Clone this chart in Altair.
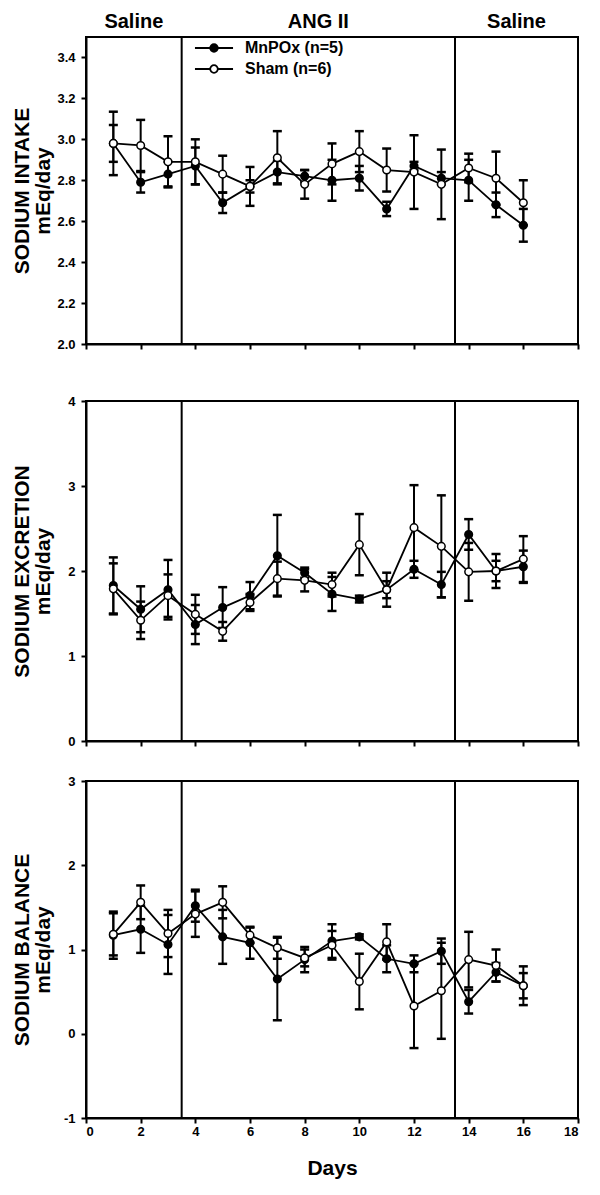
import altair as alt
import pandas as pd

days = list(range(1, 17))
series_names = ["MnPOx (n=5)", "Sham (n=6)"]

intake_mn = [2.98, 2.79, 2.83, 2.87, 2.69, 2.77, 2.84, 2.82, 2.80, 2.81, 2.66, 2.87, 2.81, 2.80, 2.68, 2.58]
intake_mn_err = [0.09, 0.05, 0.06, 0.09, 0.05, 0.03, 0.055, 0.03, 0.10, 0.06, 0.035, 0.02, 0.03, 0.10, 0.06, 0.08]
intake_sh = [2.98, 2.97, 2.89, 2.89, 2.83, 2.77, 2.91, 2.78, 2.88, 2.94, 2.85, 2.84, 2.78, 2.86, 2.81, 2.69]
intake_sh_err = [0.155, 0.125, 0.125, 0.11, 0.09, 0.095, 0.13, 0.07, 0.10, 0.10, 0.105, 0.18, 0.17, 0.07, 0.13, 0.11]

excretion_mn = [1.83, 1.55, 1.78, 1.37, 1.57, 1.71, 2.18, 1.98, 1.73, 1.67, 1.78, 2.02, 1.84, 2.43, 2.00, 2.05]
excretion_mn_err = [0.33, 0.27, 0.35, 0.23, 0.24, 0.16, 0.48, 0.06, 0.20, 0.04, 0.10, 0.10, 0.15, 0.18, 0.12, 0.19]
excretion_sh = [1.79, 1.42, 1.71, 1.49, 1.29, 1.63, 1.91, 1.89, 1.84, 2.31, 1.78, 2.51, 2.29, 1.99, 2.00, 2.14]
excretion_sh_err = [0.30, 0.22, 0.25, 0.23, 0.11, 0.10, 0.20, 0.13, 0.14, 0.36, 0.20, 0.50, 0.60, 0.34, 0.20, 0.27]

balance_mn = [1.17, 1.24, 1.06, 1.52, 1.15, 1.08, 0.65, 0.88, 1.10, 1.15, 0.89, 0.83, 0.98, 0.38, 0.73, 0.57]
balance_mn_err = [0.28, 0.28, 0.35, 0.19, 0.32, 0.19, 0.49, 0.15, 0.20, 0.03, 0.16, 0.10, 0.15, 0.14, 0.11, 0.15]
balance_sh = [1.18, 1.56, 1.19, 1.42, 1.56, 1.17, 1.02, 0.90, 1.05, 0.62, 1.09, 0.33, 0.51, 0.88, 0.81, 0.57]
balance_sh_err = [0.25, 0.20, 0.28, 0.27, 0.19, 0.09, 0.13, 0.10, 0.17, 0.33, 0.21, 0.50, 0.57, 0.33, 0.19, 0.23]

phase_labels = ["Saline", "ANG II", "Saline"]
phase_centers = [1.75, 8.5, 15.75]
phase_bounds = [3.5, 13.5]
x_ticks = list(range(0, 19, 2))

FONT = "Liberation Sans"
LEGEND_PATH = "M-5,0H-1 M1,0H5 M-1,0A1,1 0 1,0 1,0A1,1 0 1,0 -1,0"
HYPHEN_LABEL = "replace(datum.label, '\u2212', '-')"


def make_df(mn, mn_err, sh, sh_err):
    rows = []
    for name, vals, errs in [(series_names[0], mn, mn_err), (series_names[1], sh, sh_err)]:
        for d, v, e in zip(days, vals, errs):
            rows.append({"day": d, "value": v, "lo": v - e, "hi": v + e, "series": name})
    return pd.DataFrame(rows)


def panel(mn, mn_err, sh, sh_err, ydom, yvals, yfmt, title, height,
          bottom=False, legend=False, phases=False, x_min_extent=None):
    df = make_df(mn, mn_err, sh, sh_err)
    xaxis_kw = dict(values=x_ticks, grid=False, tickSize=5)
    if bottom:
        xaxis = alt.Axis(title="Days", titleFontSize=21, titlePadding=19, **xaxis_kw)
    else:
        kw = dict(labels=False, title=None, **xaxis_kw)
        if x_min_extent is not None:
            kw["minExtent"] = x_min_extent
        xaxis = alt.Axis(**kw)
    xs = alt.Scale(domain=[0, 18], nice=False)
    ys = alt.Scale(domain=ydom, nice=False, zero=False)
    x = alt.X("day:Q", scale=xs, axis=xaxis)
    y = alt.Y("value:Q", scale=ys,
              axis=alt.Axis(values=yvals, format=yfmt, labelExpr=HYPHEN_LABEL, title=title,
                            grid=False, tickSize=5, labelPadding=6, minExtent=30,
                            titleFontSize=21, titleLineHeight=21, titlePadding=3))

    base = alt.Chart(df)
    bounds = alt.Chart(pd.DataFrame({"b": phase_bounds})).mark_rule(
        color="black", strokeWidth=2).encode(x=alt.X("b:Q", scale=xs))
    err = base.mark_rule(color="black", strokeWidth=2).encode(
        x=x, y=alt.Y("lo:Q", scale=ys), y2="hi:Q")
    caps = base.transform_fold(["lo", "hi"], as_=["end", "ev"]).mark_tick(
        color="black", orient="horizontal", size=9, thickness=2.5, opacity=1).encode(
        x="day:Q", y=alt.Y("ev:Q", scale=ys))
    line = base.mark_line(color="black", strokeWidth=1.8).encode(x=x, y=y, detail="series:N")
    legend_obj = None
    if legend:
        legend_obj = alt.Legend(title=None, orient="none", legendX=120, legendY=3,
                                symbolType=LEGEND_PATH, symbolSize=58,
                                symbolStrokeColor="black", symbolStrokeWidth=1.8,
                                symbolOpacity=1, labelOffset=23, rowPadding=5,
                                labelFontSize=16, labelFontWeight="bold", labelFont=FONT,
                                labelColor="black")
    pts = base.mark_point(shape="circle", filled=True, stroke="black", strokeWidth=1.5,
                          size=58, opacity=1).encode(
        x=x, y=y,
        fill=alt.Fill("series:N", scale=alt.Scale(domain=series_names, range=["black", "white"]),
                      legend=legend_obj))
    layers = [bounds, err, caps, line, pts]
    if phases:
        ph = alt.Chart(pd.DataFrame({"label": phase_labels, "c": phase_centers})).mark_text(
            font=FONT, fontSize=20, fontWeight="bold", color="black", baseline="middle").encode(
            x=alt.X("c:Q", scale=xs), y=alt.value(-15), text="label:N")
        layers.append(ph)
    return alt.layer(*layers).properties(width=492, height=height)


top = panel(intake_mn, intake_mn_err, intake_sh, intake_sh_err, [2.0, 3.5],
            [2.0, 2.2, 2.4, 2.6, 2.8, 3.0, 3.2, 3.4], ".1f", ["SODIUM INTAKE", "mEq/day"], 307,
            legend=True, phases=True, x_min_extent=24)
mid = panel(excretion_mn, excretion_mn_err, excretion_sh, excretion_sh_err, [0, 4],
            [0, 1, 2, 3, 4], "d", ["SODIUM EXCRETION", "mEq/day"], 340)
bot = panel(balance_mn, balance_mn_err, balance_sh, balance_sh_err, [-1, 3],
            [-1, 0, 1, 2, 3], "d", ["SODIUM BALANCE", "mEq/day"], 337, bottom=True)

chart = alt.vconcat(top, mid, bot, spacing=25, background="white",
                    padding={"left": 2, "top": 3, "right": 5, "bottom": 5}).resolve_scale(
    fill="shared"
).configure_view(
    stroke="black", strokeWidth=2
).configure_axis(
    domainColor="black", domainWidth=2, tickColor="black", tickWidth=2,
    labelFont=FONT, labelFontSize=13, labelFontWeight="bold", labelColor="black",
    titleFont=FONT, titleFontWeight="bold", titleColor="black"
)

chart.save("out.html", embed_options={"renderer": "svg", "actions": False})
